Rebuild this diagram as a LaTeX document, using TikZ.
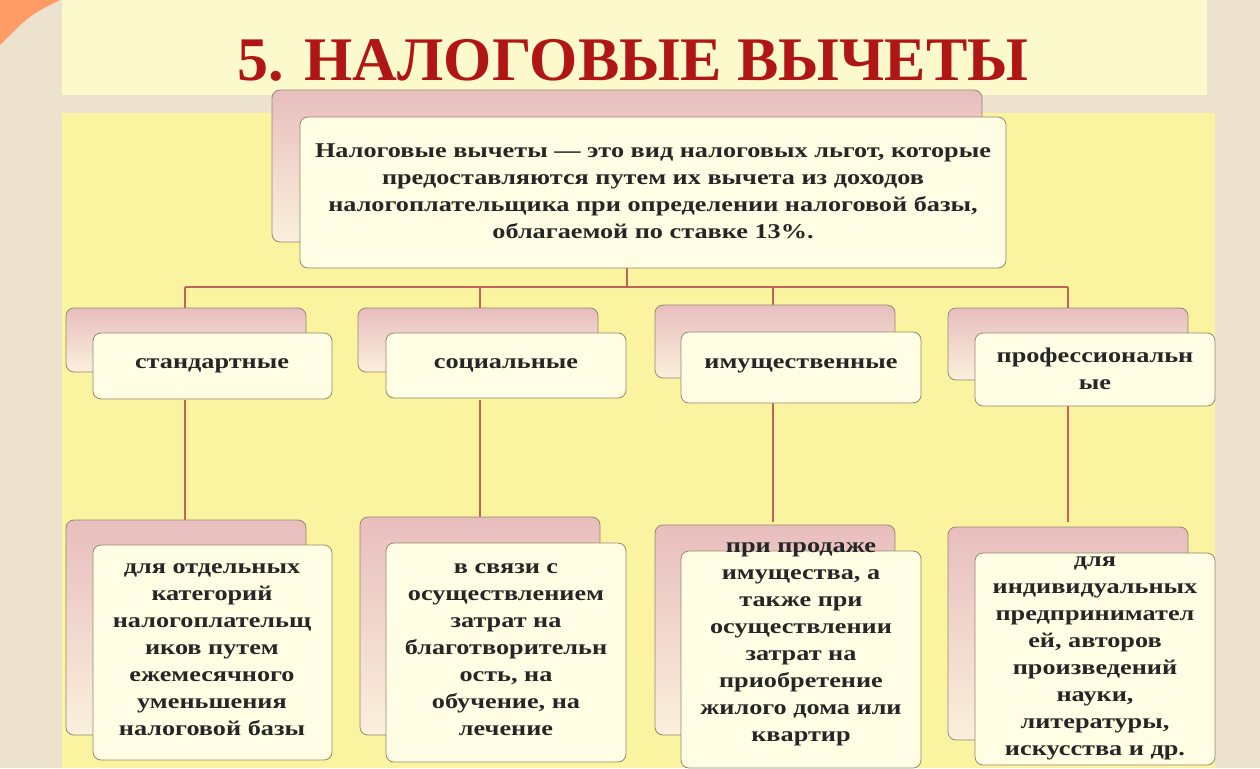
\documentclass[tikz,border=0pt]{standalone}
\usepackage{fontspec}
\setmainfont{Liberation Serif}
\newfontfamily\boxfont[FakeStretch=1.25]{Liberation Serif}
\usetikzlibrary{positioning}
\definecolor{titlered}{RGB}{176,22,22}
\definecolor{linkred}{RGB}{192,100,90}
\definecolor{backpink}{RGB}{232,190,190}
\definecolor{frontcream}{RGB}{255,253,228}
\definecolor{edgegray}{RGB}{150,135,110}
\definecolor{fieldyellow}{RGB}{250,244,160}
\definecolor{bandyellow}{RGB}{252,250,205}
\definecolor{beige}{RGB}{236,226,205}
\tikzset{
  backbox/.style={draw=edgegray, rounded corners=8pt, top color=backpink, bottom color=frontcream!80!backpink, line width=0.8pt},
  frontbox/.style={draw=edgegray, rounded corners=8pt, fill=frontcream, line width=0.8pt},
  boxtext/.style={align=center, font=\boxfont\bfseries\fontsize{21}{27}\selectfont, text=black!85},
  link/.style={draw=linkred, line width=2.5pt}
}
\begin{document}
\begin{tikzpicture}[x=1pt,y=-1pt]
\useasboundingbox (0,0) rectangle (1260,768);
% background
\fill[beige] (0,0) rectangle (1260,768);
\fill[bandyellow] (62,0) rectangle (1207,95);
\fill[fieldyellow] (62,113) rectangle (1215,768);
\fill[orange!70!red!60] (0,0) -- (60,0) .. controls (30,15) .. (0,45) -- cycle;
\node[anchor=base, font=\bfseries\fontsize{62}{62}\selectfont, text=titlered] (title) at (633,80) {5. НАЛОГОВЫЕ ВЫЧЕТЫ};

% top box
\draw[backbox] (272,90) rectangle (982,242);
\draw[frontbox] (300,117) rectangle (1006,268);
\node[boxtext] (def) at (653,191) {Налоговые вычеты — это вид налоговых льгот, которые\\предоставляются путем их вычета из доходов\\налогоплательщика при определении налоговой базы,\\облагаемой по ставке 13\%.};

% connectors
\coordinate (hub) at (627,287);
\draw[link] (627,268) -- (hub);
\draw[link] (185,287) -- (1068,287);
\foreach \x in {185,480,773,1068} {
  \draw[link] (\x,287) -- (\x,308);
  \draw[link] (\x,400) -- (\x,522);
}

% second row
\draw[backbox] (66,308) rectangle (306,372);
\draw[frontbox] (93,333) rectangle (332,399);
\node[boxtext] (std) at (212,366) {стандартные};
\draw[backbox] (358,308) rectangle (598,372);
\draw[frontbox] (386,333) rectangle (626,398);
\node[boxtext] (soc) at (506,365) {социальные};
\draw[backbox] (655,305) rectangle (895,378);
\draw[frontbox] (681,332) rectangle (921,403);
\node[boxtext] (prop) at (801,366) {имущественные};
\draw[backbox] (948,308) rectangle (1188,380);
\draw[frontbox] (975,333) rectangle (1215,406);
\node[boxtext] (prof) at (1095,369) {профессиональн\\ые};

% third row
\draw[backbox] (66,520) rectangle (306,735);
\draw[frontbox] (93,545) rectangle (332,760);
\node[boxtext] (stdtext) at (212,650) {для отдельных\\категорий\\налогоплательщ\\иков путем\\ежемесячного\\уменьшения\\налоговой базы};
\draw[backbox] (360,517) rectangle (600,735);
\draw[frontbox] (386,543) rectangle (626,762);
\node[boxtext] (soctext) at (506,650) {в связи с\\осуществлением\\затрат на\\благотворительн\\ость, на\\обучение, на\\лечение};
\draw[backbox] (655,525) rectangle (895,735);
\draw[frontbox] (681,551) rectangle (921,768);
\node[boxtext] (proptext) at (801,644) {при продаже\\имущества, а\\также при\\осуществлении\\затрат на\\приобретение\\жилого дома или\\квартир};
\draw[backbox] (948,527) rectangle (1188,740);
\draw[frontbox] (975,553) rectangle (1215,765);
\node[boxtext] (proftext) at (1095,658) {для\\индивидуальных\\предпринимател\\ей, авторов\\произведений\\науки,\\литературы,\\искусства и др.};
\end{tikzpicture}
\end{document}
